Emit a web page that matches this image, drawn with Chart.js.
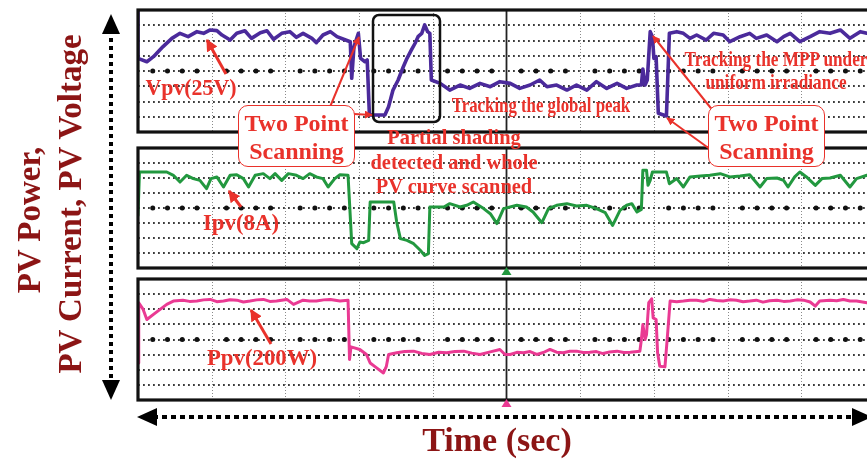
<!DOCTYPE html>
<html><head><meta charset="utf-8">
<script src="https://cdn.jsdelivr.net/npm/chart.js@4"></script>
<style>
html,body{margin:0;padding:0;background:#fff;}
body{width:867px;height:460px;overflow:hidden;position:relative;font-family:"Liberation Serif","Times New Roman",serif;}
canvas.pan{position:absolute;left:130px;}
.t{position:absolute;font-weight:bold;white-space:nowrap;line-height:1;text-align:center;}
.r{color:#e9322b;}
.d{color:#8c1515;}
.box{position:absolute;border:1.5px solid #e9322b;border-radius:10px;background:#fff;box-sizing:border-box;color:#e9322b;font-weight:bold;text-align:center;font-size:24px;line-height:28px;padding-top:3px;}
svg{position:absolute;left:0;top:0;}
</style></head><body>
<canvas id="c1" class="pan" style="top:2px" width="753" height="138"></canvas>
<canvas id="c2" class="pan" style="top:140px" width="753" height="136"></canvas>
<canvas id="c3" class="pan" style="top:271px" width="753" height="137"></canvas>

<svg width="900" height="460" id="ov">
  <defs>
    <marker id="ra" viewBox="0 0 10 10" refX="9" refY="5" markerWidth="4" markerHeight="4" orient="auto"><path d="M0,0 L10,5 L0,10 z" fill="#e9322b"/></marker>
  </defs>
  <rect x="373" y="15" width="67" height="107" rx="6" ry="6" fill="none" stroke="#111" stroke-width="2.5"/>
  <line x1="330" y1="107" x2="359" y2="37" stroke="#e9322b" stroke-width="2" marker-end="url(#ra)"/>
  <line x1="354" y1="114" x2="372" y2="115" stroke="#e9322b" stroke-width="2" marker-end="url(#ra)"/>
  <line x1="714" y1="112" x2="653" y2="36" stroke="#e9322b" stroke-width="2" marker-end="url(#ra)"/>
  <line x1="714" y1="152" x2="667" y2="118" stroke="#e9322b" stroke-width="2" marker-end="url(#ra)"/>
  <line x1="226" y1="74" x2="207" y2="40" stroke="#e9322b" stroke-width="3" marker-end="url(#ra)"/>
  <line x1="241" y1="207" x2="229" y2="191" stroke="#e9322b" stroke-width="3" marker-end="url(#ra)"/>
  <line x1="271" y1="344" x2="251" y2="310" stroke="#e9322b" stroke-width="3" marker-end="url(#ra)"/>
  <line x1="111" y1="30" x2="111" y2="384" stroke="#000" stroke-width="4" stroke-dasharray="4 4"/>
  <path d="M111,14 L102,34 L120,34 z" fill="#000"/>
  <path d="M111,400 L102,380 L120,380 z" fill="#000"/>
  <line x1="153" y1="417" x2="856" y2="417" stroke="#000" stroke-width="4" stroke-dasharray="5 4"/>
  <path d="M137,417 L157,408 L157,426 z" fill="#000"/>
  <path d="M872,417 L852,408 L852,426 z" fill="#000"/>
</svg>

<div class="box" style="left:238px;top:105px;width:117px;height:62px;">Two Point<br>Scanning</div>
<div class="box" style="left:708px;top:105px;width:117px;height:62px;">Two Point<br>Scanning</div>

<div class="t r" style="left:191px;top:87px;font-size:23px;transform:translate(-50%,-50%) scaleX(0.95);">Vpv(25V)</div>
<div class="t r" style="left:241px;top:222px;font-size:24px;transform:translate(-50%,-50%) scaleX(0.95);">Ipv(8A)</div>
<div class="t r" style="left:262px;top:357px;font-size:24px;transform:translate(-50%,-50%) scaleX(0.95);">Ppv(200W)</div>
<div class="t r" style="left:454px;top:162px;font-size:22px;line-height:24.5px;transform:translate(-50%,-50%) scaleX(0.93);">Partial shading<br>detected and whole<br>PV curve scanned</div>
<div class="t r" style="left:541px;top:105px;font-size:21px;transform:translate(-50%,-50%) scaleX(0.8);">Tracking the global peak</div>
<div class="t r" style="left:776px;top:71px;font-size:21px;line-height:23px;transform:translate(-50%,-50%) scaleX(0.82);">Tracking the MPP under<br>uniform irradiance</div>

<div class="t d" style="left:29px;top:220px;font-size:33px;transform:translate(-50%,-50%) rotate(-90deg);">PV Power,</div>
<div class="t d" style="left:70px;top:204px;font-size:33px;transform:translate(-50%,-50%) rotate(-90deg);">PV Current, PV Voltage</div>
<div class="t d" style="left:497px;top:440px;font-size:34px;transform:translate(-50%,-50%);">Time (sec)</div>

<script>
// grid divisions (oscilloscope screen: 10 x 8 divisions)
const xDivs = [0,1,2,3,4,5,6,7,8,9,10];
const yDivs = [-4,-3,-2,-1,0,1,2,3,4];

// PV voltage trace (time in divisions, value in divisions, 25 V/div)
const tV = [0.00,0.00,0.12,0.21,0.34,0.46,0.57,0.68,0.80,0.89,
 0.98,1.07,1.14,1.25,1.34,1.45,1.54,1.66,1.75,1.84,
 1.95,2.06,2.15,2.24,2.36,2.42,2.51,2.61,2.70,2.79,
 2.88,2.90,2.93,2.99,3.02,3.08,3.11,3.14,3.35,3.40,
 3.46,3.53,3.60,3.65,3.71,3.76,3.80,3.85,3.89,3.93,
 3.96,3.98,4.10,4.23,4.37,4.50,4.64,4.78,4.91,5.05,
 5.18,5.32,5.45,5.55,5.68,5.82,5.95,6.09,6.22,6.36,
 6.50,6.63,6.77,6.83,6.85,6.88,6.91,6.95,6.98,7.00,
 7.03,7.06,7.17,7.21,7.31,7.40,7.49,7.58,7.71,7.81,
 7.94,8.03,8.17,8.30,8.39,8.53,8.67,8.76,8.85,8.98,
 9.12,9.25,9.39,9.53,9.66,9.80,9.89,10.00];
const vpv = [3.90,0.83,0.61,0.94,1.60,2.14,2.47,2.25,2.58,2.47,
 2.69,2.65,2.36,2.03,2.47,2.64,2.14,2.51,2.64,2.08,
 2.47,2.58,2.21,2.47,2.14,1.86,2.36,2.58,2.25,2.08,
 1.92,-0.48,1.59,2.47,0.83,0.61,0.72,-2.89,-2.89,-2.34,
 -1.25,-0.59,0.28,0.83,1.38,1.82,2.25,2.47,3.02,2.58,
 2.47,-0.59,-0.81,-1.25,-0.92,-1.14,-0.81,-1.03,-0.70,-0.81,
 -1.14,-0.92,-0.59,-1.03,-0.92,-1.25,-0.92,-1.25,-0.70,-1.14,
 -0.81,-1.14,-0.92,-0.92,0.13,-0.92,-0.59,2.58,2.25,0.83,
 0.94,-2.77,-2.95,2.47,2.58,2.47,2.14,2.36,2.03,2.47,
 2.36,1.92,2.25,2.47,2.14,2.36,1.92,2.25,2.47,1.92,
 2.25,2.58,2.47,2.69,2.14,2.58,2.47,2.40];

// PV current trace (8 A/div)
const tI = [0.00,0.02,0.39,0.48,0.57,0.66,0.75,0.84,0.93,0.99,
 1.07,1.16,1.25,1.34,1.43,1.50,1.59,1.70,1.79,1.86,
 1.95,2.04,2.15,2.24,2.33,2.42,2.51,2.58,2.67,2.74,
 2.85,2.90,2.97,3.01,3.06,3.13,3.15,3.47,3.51,3.56,
 3.65,3.74,3.83,3.89,3.94,3.96,4.05,4.15,4.23,4.37,
 4.46,4.55,4.69,4.78,4.87,4.96,5.14,5.27,5.36,5.48,
 5.57,5.68,5.82,5.95,6.09,6.22,6.34,6.44,6.54,6.63,
 6.70,6.77,6.83,6.85,6.90,6.92,6.95,6.98,7.17,7.21,
 7.31,7.40,7.49,7.63,7.76,7.90,8.03,8.17,8.30,8.44,
 8.53,8.67,8.76,8.82,8.91,8.98,9.07,9.19,9.28,9.39,
 9.53,9.66,9.75,9.89,10.00];
const ipv = [-0.49,2.40,2.40,2.18,1.73,2.18,1.96,1.84,1.29,1.96,
 2.07,1.40,2.18,2.22,1.96,1.40,2.18,2.29,1.96,2.29,
 1.84,2.29,2.18,1.96,2.29,2.07,1.96,1.40,1.96,2.22,
 2.18,-2.38,-2.71,-2.27,-2.31,-2.16,0.40,0.40,-0.93,-2.04,
 -2.16,-2.38,-2.82,-3.16,-3.04,0.07,0.07,0.07,0.29,0.07,
 0.18,0.40,-0.04,-0.38,-1.04,-0.04,0.18,0.07,-0.27,-0.98,
 -0.04,0.18,0.29,0.13,0.18,-0.04,-0.31,-1.16,-0.16,0.18,
 0.29,-0.27,-0.09,2.51,2.51,1.51,1.84,2.40,2.40,1.62,
 1.96,1.40,2.07,2.13,2.18,2.29,2.07,2.13,2.22,1.40,
 1.96,2.00,1.84,1.40,2.07,2.40,2.07,1.51,1.96,2.00,
 2.18,1.40,1.96,2.18,2.10];

// PV power trace (200 W/div)
const tP = [0.00,0.01,0.07,0.12,0.21,0.30,0.39,0.48,0.61,0.70,
 0.80,0.89,0.98,1.07,1.16,1.25,1.34,1.43,1.52,1.61,
 1.70,1.79,1.88,2.02,2.11,2.24,2.33,2.42,2.52,2.61,
 2.74,2.85,2.87,2.89,3.01,3.10,3.15,3.22,3.33,3.37,
 3.40,3.51,3.62,3.74,3.85,3.96,4.08,4.19,4.30,4.42,
 4.53,4.64,4.78,4.91,4.98,5.05,5.14,5.23,5.32,5.41,
 5.50,5.59,5.68,5.77,5.86,5.95,6.04,6.13,6.22,6.31,
 6.40,6.50,6.59,6.68,6.81,6.83,6.85,6.88,6.90,6.93,
 6.97,6.99,7.03,7.05,7.08,7.15,7.18,7.22,7.31,7.40,
 7.49,7.58,7.67,7.76,7.85,7.94,8.03,8.12,8.21,8.30,
 8.39,8.48,8.57,8.67,8.76,8.85,8.94,9.03,9.12,9.19,
 9.25,9.39,9.48,9.57,9.66,9.75,9.89,10.00];
const ppv = [-1.55,2.43,1.99,1.32,1.66,1.99,2.32,2.54,2.60,2.52,
 2.54,2.62,2.65,2.50,2.54,2.63,2.60,2.48,2.54,2.62,
 2.65,2.52,2.54,2.65,2.32,2.60,2.55,2.54,2.62,2.65,
 2.54,2.60,-1.32,-0.49,-0.66,-0.99,-1.55,-1.81,-2.21,-1.77,
 -0.99,-0.88,-0.80,-0.77,-0.92,-0.99,-0.84,-0.88,-0.80,-0.77,
 -0.90,-0.99,-0.82,-0.66,-0.99,-0.99,-0.85,-0.88,-0.80,-0.99,
 -0.86,-0.66,-0.84,-0.88,-0.78,-0.77,-0.86,-0.84,-0.80,-0.93,
 -0.82,-0.77,-0.86,-0.84,-0.77,0.00,0.99,0.00,0.33,2.43,
 2.69,1.43,1.32,-0.88,-1.77,-1.81,0.00,2.54,2.50,2.54,
 2.60,2.60,2.52,2.65,2.58,2.54,2.62,2.60,2.50,2.54,
 2.60,2.47,2.56,2.60,2.52,2.54,2.62,2.60,2.48,2.21,
 2.54,2.60,2.56,2.65,2.55,2.54,2.43,2.45];

const scopeGrid = {
  id: 'scopeGrid',
  beforeDatasetsDraw(chart) {
    const {ctx, chartArea: a, scales: {x, y}} = chart;
    ctx.save();
    ctx.strokeStyle = '#8a8a8a'; ctx.lineWidth = 1; ctx.setLineDash([1, 2]);
    xDivs.forEach(v => {
      if (v <= xDivs[0] || v >= xDivs[xDivs.length-1] || v === 5) return;
      const px = Math.round(x.getPixelForValue(v)) + 0.5;
      ctx.beginPath(); ctx.moveTo(px, a.top); ctx.lineTo(px, a.bottom); ctx.stroke();
    });
    ctx.strokeStyle = '#3a3a3a'; ctx.lineWidth = 1.8; ctx.setLineDash([1.8, 3.2]);
    yDivs.forEach(v => {
      if (v <= yDivs[0] || v >= yDivs[yDivs.length-1]) return;
      const py = Math.round(y.getPixelForValue(v));
      ctx.beginPath(); ctx.moveTo(a.left, py); ctx.lineTo(a.right, py); ctx.stroke();
    });
    ctx.fillStyle = '#111';
    const py0 = y.getPixelForValue(0);
    for (let k = 1; k < 50; k++) {
      if (k % 5 === 0) continue;
      const px = x.getPixelForValue(k / 5);
      ctx.beginPath(); ctx.arc(px, py0, 2.5, 0, Math.PI * 2); ctx.fill();
    }
    ctx.setLineDash([]); ctx.strokeStyle = '#222'; ctx.lineWidth = 1.8;
    const pc = x.getPixelForValue(5);
    ctx.beginPath(); ctx.moveTo(pc, a.top); ctx.lineTo(pc, a.bottom); ctx.stroke();
    ctx.restore();
  },
  afterDatasetsDraw(chart, args, opts) {
    const {ctx, chartArea: a, scales: {x}} = chart;
    ctx.save();
    ctx.setLineDash([]);
    ctx.strokeStyle = '#111'; ctx.lineWidth = 3.2;
    ctx.strokeRect(a.left, a.top, a.right - a.left, a.bottom - a.top);
    if (opts.marker) {
      const pc = x.getPixelForValue(5);
      ctx.fillStyle = opts.marker;
      ctx.beginPath(); ctx.moveTo(pc, a.bottom - 1); ctx.lineTo(pc - 5, a.bottom + 7); ctx.lineTo(pc + 5, a.bottom + 7); ctx.closePath(); ctx.fill();
    }
    ctx.restore();
  }
};

function makeChart(id, t, v, color, width, marker) {
  return new Chart(document.getElementById(id), {
    type: 'line',
    data: { datasets: [{
      data: t.map((tt, i) => ({x: tt, y: v[i]})),
      borderColor: color, borderWidth: width, pointRadius: 0, tension: 0,
      fill: false, borderJoinStyle: 'round', borderCapStyle: 'round'
    }]},
    options: {
      responsive: false, animation: false, devicePixelRatio: 1, events: [],
      layout: { padding: 8 },
      plugins: { legend: {display: false}, tooltip: {enabled: false}, scopeGrid: {marker: marker} },
      scales: {
        x: { type: 'linear', min: xDivs[0], max: xDivs[xDivs.length-1], display: false },
        y: { type: 'linear', min: yDivs[0], max: yDivs[yDivs.length-1], display: false }
      }
    },
    plugins: [scopeGrid]
  });
}

makeChart('c1', tV, vpv, '#4b2a9b', 3.6, null);
makeChart('c2', tI, ipv, '#22983f', 3, '#22983f');
makeChart('c3', tP, ppv, '#ea3a93', 3, '#ea3a93');
</script>
</body></html>
